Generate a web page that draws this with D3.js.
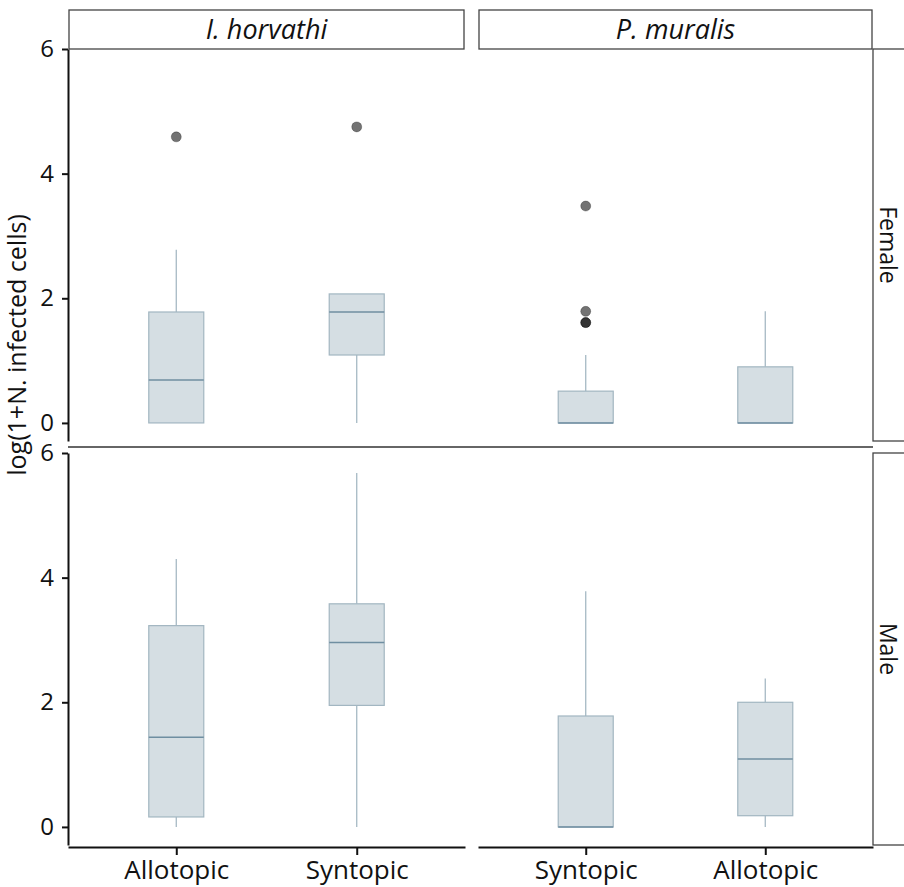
<!DOCTYPE html>
<html lang="en">
<head>
  <meta charset="UTF-8">
  <title>Infected cells boxplot</title>
  <style>
    body { margin: 0; background: #fff; }
    text { font-family: "Open Sans", "DejaVu Sans", sans-serif; fill: #111; }
    .eixo path, .eixo line { stroke: #111; stroke-width: 2; }
    .eixo text { font-size: 24px; }
    .eixoX text { font-size: 26px; }
    .faixa { fill: #fff; stroke: #444; stroke-width: 1.3; }
    .caixa { fill: #d5dee3; stroke: #a2b6c1; stroke-width: 1.2; }
    .mediana { stroke: #6f8ea1; stroke-width: 1.6; }
    .bigode { stroke: #a6b9c4; stroke-width: 1.3; }
    .outlier { fill: rgba(0, 0, 0, 0.55); stroke: rgba(0, 0, 0, 0.25); stroke-width: 1; }
  </style>
</head>
<body>
  <svg id="grafico"></svg>

  <script src="https://d3js.org/d3.v7.min.js"></script>
  <script>
    // dados
    const species = ['I. horvathi', 'P. muralis'];
    const sexes = ['Female', 'Male'];
    const habitatsIH = ['Allotopic', 'Syntopic'];
    const habitatsPM = ['Syntopic', 'Allotopic'];
    const yTicks = [0, 2, 4, 6];

    const boxSex = ['Female', 'Female', 'Female', 'Female', 'Male', 'Male', 'Male', 'Male'];
    const boxSpecies = ['I. horvathi', 'I. horvathi', 'P. muralis', 'P. muralis',
                        'I. horvathi', 'I. horvathi', 'P. muralis', 'P. muralis'];
    const boxHabitat = ['Allotopic', 'Syntopic', 'Syntopic', 'Allotopic',
                        'Allotopic', 'Syntopic', 'Syntopic', 'Allotopic'];
    const whiskerLow = [0, 0, 0, 0, 0, 0, 0, 0];
    const q1 = [0, 1.09, 0, 0, 0.16, 1.95, 0, 0.18];
    const median = [0.69, 1.78, 0, 0, 1.44, 2.96, 0, 1.09];
    const q3 = [1.78, 2.07, 0.51, 0.90, 3.23, 3.58, 1.78, 2.00];
    const whiskerHigh = [2.78, 2.07, 1.09, 1.79, 4.30, 5.68, 3.78, 2.38];

    const outlierBox = [0, 1, 2, 2, 2, 2];
    const outlierValue = [4.59, 4.75, 3.48, 1.79, 1.61, 1.61];

    function executa() {
      const largura = 904;
      const altura = 887;
      const svg = d3.select('#grafico').attr('width', largura).attr('height', altura);

      const painelX = { 'I. horvathi': [68, 465], 'P. muralis': [478, 873] };
      const painelY = { 'Female': [441, 49], 'Male': [845, 453] };
      const habitats = { 'I. horvathi': habitatsIH, 'P. muralis': habitatsPM };

      const x = {};
      species.forEach(s => {
        x[s] = d3.scalePoint().domain(habitats[s]).range(painelX[s]).padding(0.6);
      });
      const y = {};
      sexes.forEach(g => {
        y[g] = d3.scaleLinear().domain([-0.29, 6]).range(painelY[g]);
      });
      const larguraCaixa = 55;

      // faixas de cima (especies)
      species.forEach(s => {
        const [x0, x1] = painelX[s];
        svg.append('rect').classed('faixa', true)
          .attr('x', x0 + 1).attr('y', 10)
          .attr('width', x1 - x0 - 2).attr('height', 39);
        svg.append('text')
          .attr('x', (x0 + x1) / 2).attr('y', 39)
          .attr('text-anchor', 'middle')
          .style('font-size', '27px').style('font-style', 'italic')
          .text(s);
      });

      // faixas da direita (sexo)
      sexes.forEach(g => {
        const [y0, y1] = painelY[g];
        svg.append('rect').classed('faixa', true)
          .attr('x', 873).attr('y', y1)
          .attr('width', 32).attr('height', y0 - y1);
        svg.append('text')
          .attr('transform', `translate(880,${(y0 + y1) / 2}) rotate(90)`)
          .attr('text-anchor', 'middle')
          .style('font-size', '23px')
          .text(g);
      });

      // separador entre paineis
      svg.append('line')
        .attr('x1', 68).attr('x2', 873).attr('y1', 447).attr('y2', 447)
        .attr('stroke', '#333').attr('stroke-width', 1.5);

      // eixos y
      sexes.forEach(g => {
        svg.append('g').classed('eixo', true)
          .attr('transform', 'translate(68,0)')
          .call(d3.axisLeft(y[g]).tickValues(yTicks).tickFormat(d3.format('d'))
            .tickSize(6).tickSizeOuter(0).tickPadding(8));
      });

      // eixos x (so embaixo)
      species.forEach(s => {
        svg.append('g').classed('eixo eixoX', true)
          .attr('transform', 'translate(0,847)')
          .call(d3.axisBottom(x[s]).tickSize(8).tickSizeOuter(0).tickPadding(6));
      });

      svg.selectAll('.eixo .domain').attr('stroke-width', 2.2);

      // caixas
      const idx = d3.range(q1.length);
      const cx = i => x[boxSpecies[i]](boxHabitat[i]);
      const cy = i => y[boxSex[i]];

      svg.selectAll('.bigodeSup').data(idx).enter().append('line')
        .classed('bigode', true)
        .attr('x1', cx).attr('x2', cx)
        .attr('y1', i => cy(i)(q3[i])).attr('y2', i => cy(i)(whiskerHigh[i]));

      svg.selectAll('.bigodeInf').data(idx).enter().append('line')
        .classed('bigode', true)
        .attr('x1', cx).attr('x2', cx)
        .attr('y1', i => cy(i)(q1[i])).attr('y2', i => cy(i)(whiskerLow[i]));

      svg.selectAll('.caixa').data(idx).enter().append('rect')
        .classed('caixa', true)
        .attr('x', i => cx(i) - larguraCaixa / 2)
        .attr('y', i => cy(i)(q3[i]))
        .attr('width', larguraCaixa)
        .attr('height', i => cy(i)(q1[i]) - cy(i)(q3[i]));

      svg.selectAll('.mediana').data(idx).enter().append('line')
        .classed('mediana', true)
        .attr('x1', i => cx(i) - larguraCaixa / 2)
        .attr('x2', i => cx(i) + larguraCaixa / 2)
        .attr('y1', i => cy(i)(median[i])).attr('y2', i => cy(i)(median[i]));

      svg.selectAll('.outlier').data(outlierValue).enter().append('circle')
        .classed('outlier', true)
        .attr('cx', (d, k) => cx(outlierBox[k]))
        .attr('cy', (d, k) => cy(outlierBox[k])(d))
        .attr('r', 5);

      // titulo do eixo y
      svg.append('text')
        .attr('transform', 'translate(26,345) rotate(-90)')
        .attr('text-anchor', 'middle')
        .style('font-size', '25px')
        .text('log(1+N. infected cells)');
    }

    executa();
  </script>
</body>
</html>
